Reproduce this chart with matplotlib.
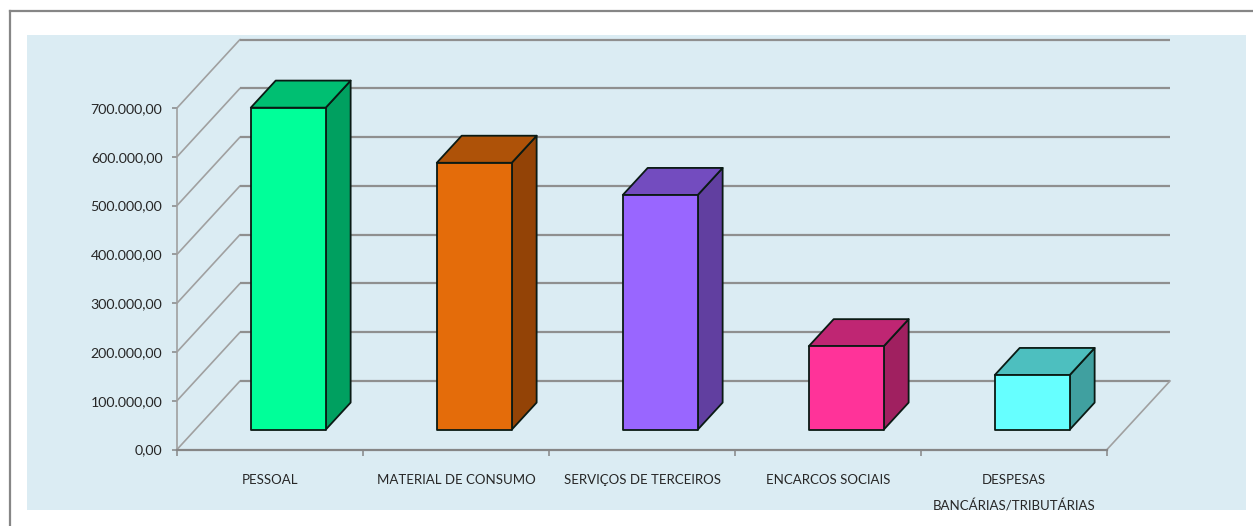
import matplotlib
matplotlib.use("Agg")
import matplotlib.pyplot as plt
from matplotlib.patches import Polygon, Rectangle
from matplotlib.lines import Line2D
from matplotlib.ticker import FuncFormatter

categories = ["PESSOAL", "MATERIAL DE CONSUMO", "SERVIÇOS DE TERCEIROS",
              "ENCARCOS SOCIAIS", "DESPESAS\nBANCÁRIAS/TRIBUTÁRIAS"]
values = [660000, 547000, 481000, 171000, 112000]
y_ticks = [0, 100000, 200000, 300000, 400000, 500000, 600000, 700000]
front_colors = ["#00FF99", "#E46C0A", "#9966FF", "#FF3399", "#66FFFF"]
top_colors = ["#00BF72", "#AE5208", "#734CBF", "#BF2673", "#4DBFBF"]
side_colors = ["#00A060", "#934306", "#613FA0", "#A02060", "#40A0A0"]

W, H = 1253, 526
plt.rcParams["font.family"] = ["Lato", "DejaVu Sans"]
fig = plt.figure(figsize=(W / 100, H / 100), dpi=100, facecolor="white")

def px_rect(x0, y0, x1, y1):
    return [x0 / W, (H - y1) / H, (x1 - x0) / W, (y1 - y0) / H]

fig.add_artist(Rectangle((26.5 / W, (H - 510) / H), (1246 - 26.5) / W, 475 / H,
                         transform=fig.transFigure, fc="#DBECF3", ec="none", zorder=-5))
for xs, ys in (([10, 10], [11, 526]), ([10, 1253], [11, 11])):
    fig.add_artist(Line2D([x / W for x in xs], [(H - y) / H for y in ys],
                          transform=fig.transFigure, color="#868686", lw=1.6, zorder=-4))

ax = fig.add_axes(px_rect(177, 108, 1107, 449.5))
ax.patch.set_visible(False)
ax.set_xlim(0, len(categories))
ax.set_ylim(0, 700000)

# oblique depth projection: one unit of depth moves by this much in data units
DX = 63 / 186
DY = 68.5 / 341.5 * 700000

def proj(x, y, d):
    return x + d * DX, y + d * DY

for v in y_ticks:
    x0, y0 = proj(0, v, 0)
    x1, y1 = proj(0, v, 1)
    x2, y2 = proj(len(categories), v, 1)
    ax.plot([x0, x1], [y0, y1], color="#A0A0A0", lw=1.2, clip_on=False, zorder=1,
            solid_capstyle="round")
    ax.plot([x1, x2], [y1, y2], color="#8F8F8F", lw=1.6, clip_on=False, zorder=1,
            solid_capstyle="butt")
x0, y0 = proj(len(categories), 0, 0)
x1, y1 = proj(len(categories), 0, 1)
ax.plot([x0, x1], [y0, y1], color="#A0A0A0", lw=1.2, clip_on=False, zorder=1)

BAR_W = 0.403
D0, D1 = 0.29, 0.685
for i, v in enumerate(values):
    xl = i + 0.5 - BAR_W / 2
    xr = i + 0.5 + BAR_W / 2
    side = [proj(xr, 0, D0), proj(xr, 0, D1), proj(xr, v, D1), proj(xr, v, D0)]
    top = [proj(xl, v, D0), proj(xr, v, D0), proj(xr, v, D1), proj(xl, v, D1)]
    front = [proj(xl, 0, D0), proj(xr, 0, D0), proj(xr, v, D0), proj(xl, v, D0)]
    for pts, col in ((side, side_colors[i]), (top, top_colors[i]), (front, front_colors[i])):
        ax.add_patch(Polygon(pts, closed=True, fc=col, ec="#0A1A14", lw=1.3,
                             joinstyle="round", clip_on=False, zorder=3))

for s in ("top", "right"):
    ax.spines[s].set_visible(False)
ax.spines["left"].set_color("#A0A0A0")
ax.spines["left"].set_linewidth(1.2)
ax.spines["bottom"].set_color("#868686")
ax.spines["bottom"].set_linewidth(1.6)
ax.spines["left"].set_zorder(2)
ax.spines["bottom"].set_zorder(2)

ax.set_yticks(y_ticks)
ax.yaxis.set_major_formatter(FuncFormatter(
    lambda v, _: f"{v:,.2f}".replace(",", "X").replace(".", ",").replace("X", ".")))
ax.tick_params(axis="y", length=3.5, width=1.1, color="#868686", labelsize=10.2,
               labelcolor="#262626", pad=7)
ax.set_xticks(range(len(categories) + 1))
ax.set_xticklabels([])
ax.set_xticks([i + 0.5 for i in range(len(categories))], minor=True)
ax.set_xticklabels(categories, minor=True, fontsize=9.5, color="#262626", linespacing=2.25)
ax.tick_params(axis="x", which="major", length=4, width=1.1, color="#868686")
ax.tick_params(axis="x", which="minor", length=0, pad=17.5)

fig.savefig("out.png", dpi=100)
